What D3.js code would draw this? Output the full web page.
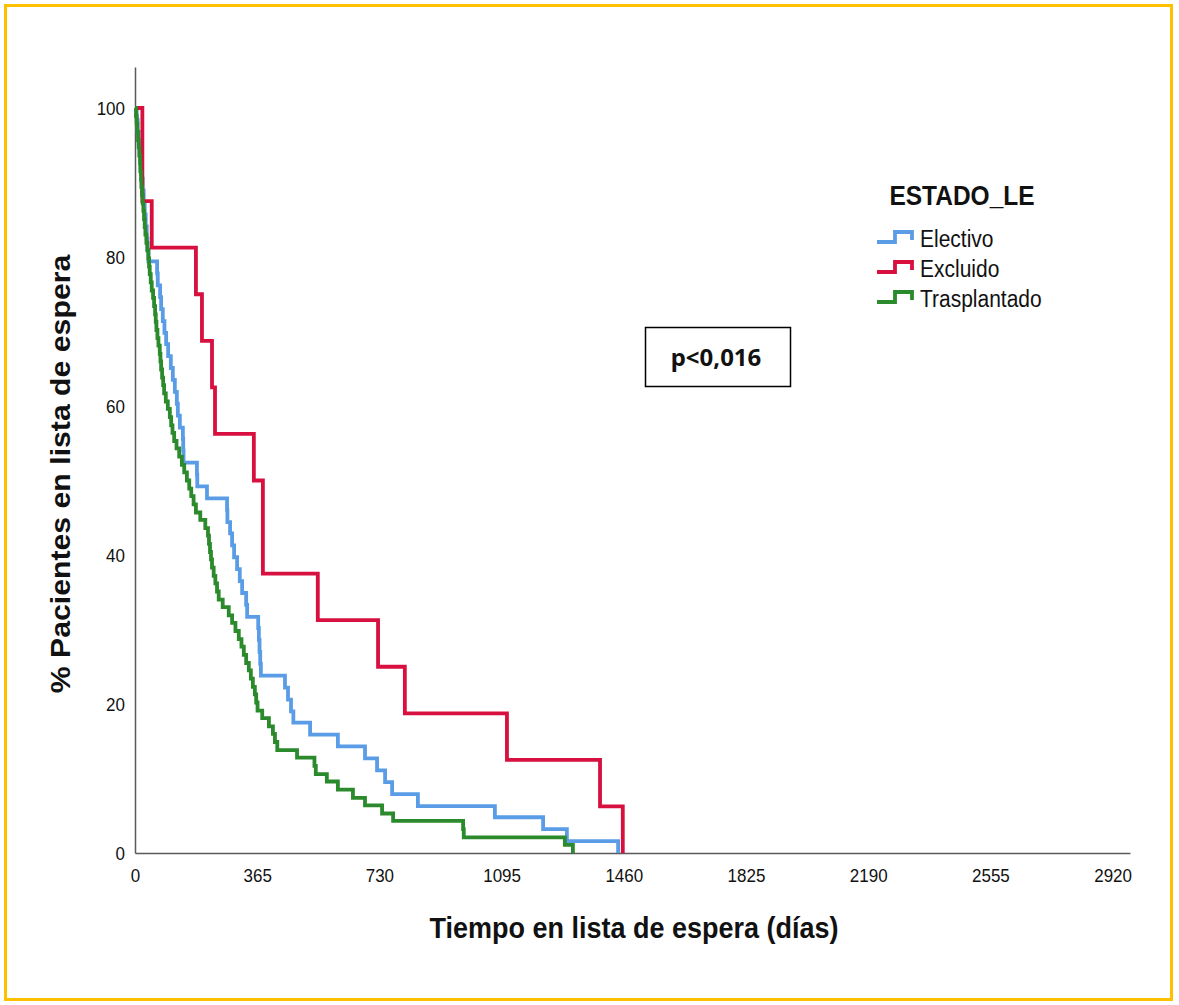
<!DOCTYPE html>
<html>
<head>
<meta charset="utf-8">
<title>Tiempo en lista de espera</title>
<script src="https://cdnjs.cloudflare.com/ajax/libs/d3/7.8.5/d3.min.js"></script>
<style>
    body { margin: 0; background: #fff; }
    text { font-family: "Liberation Sans", Arial, sans-serif; fill: #111; }
</style>
</head>
<body>
<script>
    // curvas: dias y % de pacientes en lista
    var electivoDias = [0, 5, 8, 11, 14, 17, 20, 23, 26, 29, 32, 35, 37, 40, 66, 68, 75, 78, 83, 88,
        93, 99, 107, 113, 119, 125, 128, 134, 143, 144, 145, 185, 186, 215, 275, 276, 284, 290, 296, 305,
        313, 320, 332, 335, 368, 370, 372, 374, 376, 448, 457, 466, 473, 523, 606, 687, 723, 747, 768, 845,
        1075, 1219, 1290, 1443];
    var electivoPct = [100, 98.4, 96.8, 95.2, 93.7, 92.1, 90.5, 88.9, 87.3, 85.7, 84.1, 82.5, 81.0, 79.4, 77.8, 76.2, 74.6, 73.0, 71.4, 69.8,
        68.3, 66.7, 65.1, 63.5, 61.9, 60.3, 58.7, 57.1, 55.6, 54.0, 52.4, 50.8, 49.2, 47.6, 46.0, 44.4, 42.9, 41.3, 39.7, 38.1,
        36.5, 34.9, 33.3, 31.7, 30.2, 28.6, 27.0, 25.4, 23.8, 22.2, 20.6, 19.0, 17.5, 15.9, 14.3, 12.7, 11.1, 9.5, 7.9, 6.3,
        4.8, 3.2, 1.6, 0];

    var excluidoDias = [0, 22, 50, 182, 200, 230, 239, 355, 382, 546, 726, 806, 1111, 1389, 1457];
    var excluidoPct = [100, 87.5, 81.25, 75, 68.75, 62.5, 56.25, 50, 37.5, 31.25, 25, 18.75, 12.5, 6.25, 0];

    var trasplantadoDias = [0, 3, 5, 7, 9, 11, 13, 15, 16, 18, 19, 21, 23, 25, 27, 29, 31, 34, 37, 40,
        42, 44, 47, 50, 54, 57, 60, 62, 64, 67, 70, 74, 76, 78, 81, 84, 87, 92, 98, 104,
        108, 112, 117, 124, 132, 140, 147, 155, 162, 168, 175, 182, 195, 210, 218, 221, 224, 227, 230, 235,
        240, 245, 250, 262, 280, 290, 300, 310, 318, 325, 332, 340, 346, 352, 358, 362, 366, 380, 400, 412,
        418, 425, 484, 536, 540, 573, 606, 651, 687, 738, 771, 980, 982, 1284, 1308];
    var trasplantadoPct = [100, 98.9, 97.9, 96.8, 95.7, 94.7, 93.6, 92.6, 91.5, 90.4, 89.4, 88.3, 87.2, 86.2, 85.1, 84.0, 83.0, 81.9, 80.9, 79.8,
        78.7, 77.7, 76.6, 75.5, 74.5, 73.4, 72.3, 71.3, 70.2, 69.1, 68.1, 67.0, 66.0, 64.9, 63.8, 62.8, 61.7, 60.6, 59.6, 58.5,
        57.4, 56.4, 55.3, 54.3, 53.2, 52.1, 51.1, 50.0, 48.9, 47.9, 46.8, 45.7, 44.7, 43.6, 42.6, 41.5, 40.4, 39.4, 38.3, 37.2,
        36.2, 35.1, 34.0, 33.0, 31.9, 30.9, 29.8, 28.7, 27.7, 26.6, 25.5, 24.5, 23.4, 22.3, 21.3, 20.2, 19.1, 18.1, 17.0, 16.0,
        14.9, 13.8, 12.8, 11.7, 10.6, 9.6, 8.5, 7.4, 6.4, 5.3, 4.3, 3.2, 2.1, 1.1, 0];

    var grupos = ["Electivo", "Excluido", "Trasplantado"];
    var xTicks = [0, 365, 730, 1095, 1460, 1825, 2190, 2555, 2920];
    var yTicks = [0, 20, 40, 60, 80, 100];

    var colores = ["#5a9de6", "#d7103f", "#2b8a2b"];
    var sy = 1.12; // el original esta algo estirado en vertical

    var svg = d3.select("body").append("svg")
        .attr("width", 1179)
        .attr("height", 1005);

    svg.append("rect")
        .attr("x", 5.5).attr("y", 5.5)
        .attr("width", 1166).attr("height", 994)
        .attr("fill", "#fff")
        .attr("stroke", "#ffc000")
        .attr("stroke-width", 3);

    var x = d3.scaleLinear().domain([0, 2972]).range([135, 1130]);
    var y = d3.scaleLinear().domain([0, 105.5]).range([853, 67]);

    // ejes
    var gx = svg.append("g")
        .attr("transform", "translate(0,853)")
        .call(d3.axisBottom(x).tickValues(xTicks).tickFormat(d3.format("d")).tickSize(0).tickSizeOuter(0));
    gx.selectAll("text")
        .attr("y", 0).attr("dy", 0)
        .attr("transform", "translate(0,29) scale(1," + sy + ")")
        .style("font-size", "17px")
        .attr("font-family", null);

    var gy = svg.append("g")
        .attr("transform", "translate(135,0)")
        .call(d3.axisLeft(y).tickValues(yTicks).tickSize(0).tickSizeOuter(0).tickPadding(10));
    gy.selectAll("text")
        .attr("dy", "0.36em")
        .attr("transform", "scale(1," + sy + ")")
        .style("font-size", "17px")
        .attr("font-family", null);

    svg.selectAll(".domain")
        .attr("stroke", "#5a5a5a")
        .attr("stroke-width", 1.5);

    // curvas
    var series = [
        electivoDias.map(function(d, i) { return [d, electivoPct[i]]; }),
        excluidoDias.map(function(d, i) { return [d, excluidoPct[i]]; }),
        trasplantadoDias.map(function(d, i) { return [d, trasplantadoPct[i]]; })
    ];

    var line = d3.line()
        .x(function(d) { return x(d[0]); })
        .y(function(d) { return y(d[1]); })
        .curve(d3.curveStepAfter);

    series.forEach(function(s, i) {
        svg.append("path")
            .attr("d", line(s))
            .attr("fill", "none")
            .attr("stroke", colores[i])
            .attr("stroke-width", 3.8)
            .attr("stroke-linejoin", "miter");
    });

    // titulos
    svg.append("text")
        .attr("transform", "translate(634,938) scale(1," + sy + ")")
        .attr("text-anchor", "middle")
        .style("font-size", "27px")
        .style("font-weight", "bold")
        .text("Tiempo en lista de espera (días)");

    svg.append("text")
        .attr("transform", "translate(70,474) scale(1," + sy + ") rotate(-90)")
        .attr("text-anchor", "middle")
        .style("font-size", "27px")
        .style("font-weight", "bold")
        .text("% Pacientes en lista de espera");

    // leyenda
    svg.append("text")
        .attr("transform", "translate(962,205) scale(1," + sy + ")")
        .attr("text-anchor", "middle")
        .style("font-size", "24.5px")
        .style("font-weight", "bold")
        .text("ESTADO_LE");

    grupos.forEach(function(g, i) {
        var ly = 242 + i * 30;
        svg.append("path")
            .attr("d", "M877," + ly + "h18v-10h17v8")
            .attr("fill", "none")
            .attr("stroke", colores[i])
            .attr("stroke-width", 3.8);
        svg.append("text")
            .attr("transform", "translate(920," + (ly + 5) + ") scale(1," + sy + ")")
            .style("font-size", "21px")
            .text(g);
    });

    // caja del p-valor
    svg.append("rect")
        .attr("x", 645.5).attr("y", 327.5)
        .attr("width", 145).attr("height", 59)
        .attr("fill", "#fff")
        .attr("stroke", "#000")
        .attr("stroke-width", 1.5);

    svg.append("text")
        .attr("x", 716).attr("y", 366)
        .attr("text-anchor", "middle")
        .style("font-family", "'Noto Sans', sans-serif")
        .style("font-size", "24px")
        .style("font-weight", "bold")
        .text("p<0,016");
</script>
</body>
</html>
